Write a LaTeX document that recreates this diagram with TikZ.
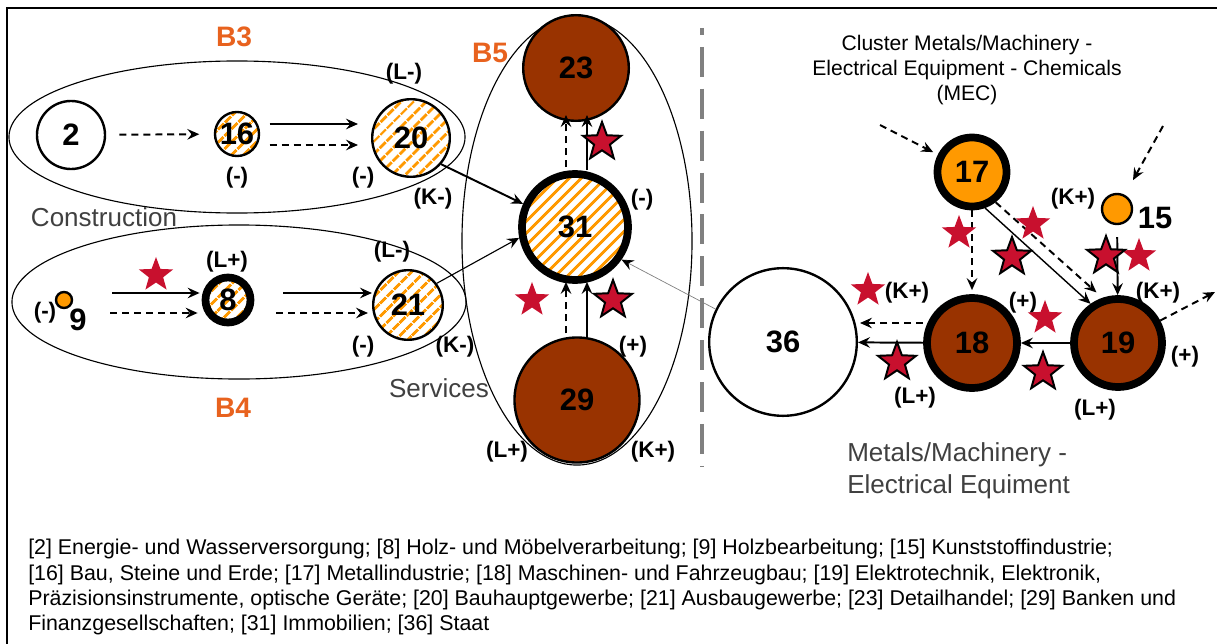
\documentclass[tikz,border=0pt]{standalone}
\usepackage{fontspec}
\setmainfont{Liberation Sans}
\usetikzlibrary{arrows.meta,calc,shapes.geometric,patterns.meta}

\definecolor{brownS}{RGB}{153,51,0}
\definecolor{orangeS}{RGB}{255,153,0}
\definecolor{blockC}{RGB}{232,98,30}
\definecolor{starC}{RGB}{200,16,46}
\definecolor{textG}{RGB}{64,64,64}
\definecolor{sepG}{RGB}{128,128,128}

\tikzset{
  sector/.style={circle,draw,inner sep=0pt,line width=1.7pt,font=\fontsize{22}{22}\selectfont\bfseries},
  thickrim/.style={line width=5.5pt},
  hatched/.style={preaction={fill=white},pattern={Lines[angle=45,distance=6.5pt,line width=2.4pt]},pattern color=orangeS},
  num/.style={font=\fontsize{22}{22}\selectfont\bfseries,inner sep=0pt},
  flow/.style={-{Stealth[length=8.5pt,width=7.5pt,inset=3pt]},line width=1.4pt},
  dflow/.style={flow,dash pattern=on 5pt off 3.5pt},
  sign/.style={font=\fontsize{16}{16}\selectfont\bfseries,inner sep=0pt},
  block/.style={text=blockC,font=\fontsize{20}{20}\selectfont\bfseries,inner sep=0pt},
  area/.style={text=textG,font=\fontsize{18.5}{22.5}\selectfont,inner sep=0pt},
  starplain/.style={star,star points=5,star point ratio=2.4,fill=starC,inner sep=0pt,minimum size=0.9cm},
  starrim/.style={starplain,draw=black,line width=1.4pt,minimum size=1cm}
}

\begin{document}
\begin{tikzpicture}[x=0.025cm,y=-0.025cm]
\useasboundingbox (0,0) rectangle (1217,644);
\draw[line width=1.4pt] (7,644) -- (7,8) -- (1217,8);
\draw[sepG,line width=3pt,dash pattern=on 21.3pt off 8.5pt,dash phase=16.4pt] (702,28) -- (702,467);

% groups
\draw[line width=0.8pt] (237,137) ellipse [x radius=5.7cm,y radius=1.9cm];
\draw[line width=0.8pt] (239,302) ellipse [x radius=5.675cm,y radius=1.925cm];
\draw[line width=0.8pt] (577,241) ellipse [x radius=2.875cm,y radius=5.6cm];
\node[block] (lB3) at (234,37) {B3};
\node[block] (lB4) at (233,408) {B4};
\node[block] (lB5) at (490,53) {B5};
\node[area] (lcons) at (104,217) {Construction};
\node[area] (lserv) at (439,388) {Services};
\node[area,anchor=west,align=left] (lmet) at (847,471) {Metals/Machinery -\\Electrical Equiment};
\node[font=\fontsize{15}{17.8}\selectfont,align=center,inner sep=0pt] (lmec) at (967,70) {Cluster Metals/Machinery -\\Electrical Equipment - Chemicals\\(MEC)};

% sectors
\node[sector,minimum size=1.7cm] (n2) at (71,135) {2};
\node[sector,hatched,minimum size=1.1cm] (n16) at (237,134) {16};
\node[sector,hatched,minimum size=1.94cm] (n20) at (411,138) {20};
\node[sector,fill=orangeS,minimum size=0.4cm] (n9) at (64,300) {};
\node[num] (t9) at (78,320) {9};
\node[sector,hatched,thickrim,minimum size=1.125cm] (n8) at (228,300) {8};
\node[sector,hatched,minimum size=1.74cm] (n21) at (408,305) {21};
\node[sector,fill=brownS,minimum size=2.64cm] (n23) at (576,68) {23};
\node[sector,hatched,thickrim,minimum size=2.65cm] (n31) at (575,227) {31};
\node[sector,fill=brownS,minimum size=3.125cm] (n29) at (577,400) {29};
\node[sector,minimum size=3.69cm] (n36) at (783,342) {36};
\node[sector,fill=orangeS,thickrim,minimum size=1.725cm] (n17) at (972,172) {17};
\node[sector,fill=orangeS,minimum size=0.75cm] (n15) at (1117,209) {};
\node[num] (t15) at (1155,218) {15};
\node[sector,fill=brownS,thickrim,minimum size=2.25cm] (n18) at (972,343) {18};
\node[sector,fill=brownS,thickrim,minimum size=2.2cm] (n19) at (1118,343) {19};

% flows
\draw[dflow,shorten <=0.33cm,shorten >=0.35cm] (n2) -- (n16);
\draw[flow] ($(n16.east)+(9,-10)$) -- ($(n20.west)+(-13,-14)$);
\draw[dflow] ($(n16.east)+(9,11)$) -- ($(n20.west)+(-13,7)$);
\draw[flow] ($(n9.east)+(39,-7)$) -- ($(n8.west)+(-2,-7)$);
\draw[dflow] ($(n9.east)+(37,13)$) -- ($(n8.west)+(-4,13)$);
\draw[flow] ($(n8.east)+(29,-7)$) -- ($(n21.west)+(0,-12)$);
\draw[dflow] ($(n8.east)+(22,13)$) -- ($(n21.west)+(-4,8)$);
\draw[flow] (n20.319) -- (n31.156);
\draw[flow,line width=0.8pt] (n21.37) -- (n31.191);
\draw[-{Stealth[length=8.5pt,width=7.5pt,inset=3pt,color=black]},line width=0.5pt,draw=gray] (n36.154) -- (n31.325);
\draw[dflow] ($(n31.north)+(-9,-3)$) -- ($(n23.south)+(-10,-7)$);
\draw[flow] ($(n31.north)+(12,0)$) -- ($(n23.south)+(11,-7)$);
\draw[dflow] ($(n29.north)+(-11,-3)$) -- ($(n31.south)+(-9,-2)$);
\draw[flow] ($(n29.north)+(10,2)$) -- ($(n31.south)+(12,-2)$);

\coordinate (c17in) at (880,125);
\coordinate (c15in) at (1163,126);
\coordinate (c19out) at (1215,292);
\draw[dflow,shorten >=0.13cm] (c17in) -- (n17);
\draw[dflow,shorten >=0.42cm] (c15in) -- (n15);
\draw[dflow,shorten >=0.1cm] (n17) -- (n18);
\draw[flow,line width=1pt] (n17.290) -- (n19.125);
\draw[dflow,shorten >=0.2cm] (n17.308) -- (n19.109);
\draw[flow,shorten <=0.3cm] (n15) -- (n19);
\draw[dflow] (n19.28) -- (c19out);
\draw[dflow] ($(n18.west)+(0,-20)$) -- ($(n36.east)+(2,-19)$);
\draw[flow] (n18) -- (n36);
\draw[flow] (n19) -- (n18);

% signs
\node[sign] (g1) at (404,74) {(L-)};
\node[sign] (g2) at (237,178) {(-)};
\node[sign] (g3) at (363,178) {(-)};
\node[sign] (g4) at (433,199) {(K-)};
\node[sign] (g5) at (227,262) {(L+)};
\node[sign] (g6) at (45,313) {(-)};
\node[sign] (g7) at (392,252) {(L-)};
\node[sign] (g8) at (363,347) {(-)};
\node[sign] (g9) at (455,347) {(K-)};
\node[sign] (g10) at (642,200) {(-)};
\node[sign] (g11) at (633,347) {(+)};
\node[sign] (g12) at (507,452) {(L+)};
\node[sign] (g13) at (653,452) {(K+)};
\node[sign] (g14) at (1073,199) {(K+)};
\node[sign] (g15) at (907,293) {(K+)};
\node[sign] (g16) at (915,398) {(L+)};
\node[sign] (g17) at (1023,303) {(+)};
\node[sign] (g18) at (1158,293) {(K+)};
\node[sign] (g19) at (1185,357) {(+)};
\node[sign] (g20) at (1095,410) {(L+)};

% stars
\node[starplain] (s1) at (156,275) {};
\node[starplain] (s2) at (532,300) {};
\node[starplain] (s3) at (959,233) {};
\node[starplain] (s4) at (1033,224) {};
\node[starplain] (s5) at (1139,256) {};
\node[starplain] (s6) at (868,290) {};
\node[starplain] (s7) at (1045,318) {};
\node[starrim] (r1) at (602,142) {};
\node[starrim] (r2) at (613,300) {};
\node[starrim] (r3) at (1012,257) {};
\node[starrim] (r4) at (1106,256) {};
\node[starrim] (r5) at (897,362) {};
\node[starrim] (r6) at (1043,372) {};

% legend
\node[anchor=north west,align=left,inner sep=0pt,font=\fontsize{15.2}{18}\selectfont] (legend) at (28,539) {[2] Energie- und Wasserversorgung; [8] Holz- und Möbelverarbeitung; [9] Holzbearbeitung; [15] Kunststoffindustrie;\\
{}[16] Bau, Steine und Erde; [17] Metallindustrie; [18] Maschinen- und Fahrzeugbau; [19] Elektrotechnik, Elektronik,\\
Präzisionsinstrumente, optische Geräte; [20] Bauhauptgewerbe; [21] Ausbaugewerbe; [23] Detailhandel; [29] Banken und\\
Finanzgesellschaften; [31] Immobilien; [36] Staat};
\end{tikzpicture}
\end{document}
